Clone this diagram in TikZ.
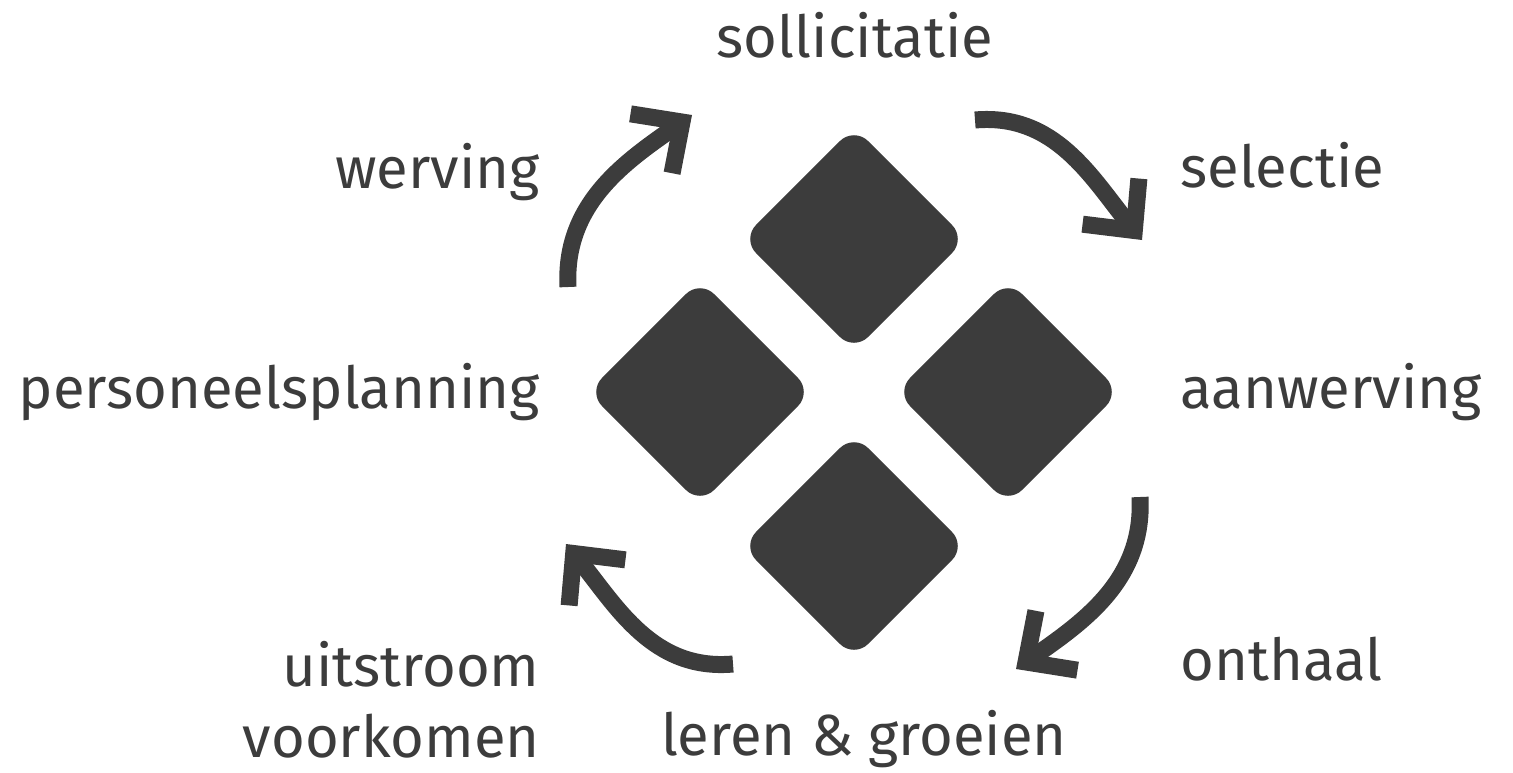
\documentclass[tikz,border=0pt]{standalone}
\usepackage{fontspec}
\setmainfont{Fira Sans}
\usepackage{tikz}
\usetikzlibrary{arrows.meta}
\definecolor{ink}{HTML}{3C3C3C}
\tikzset{ tile/.style = {rectangle, rotate=45, fill=ink, minimum size=3.17cm, inner sep=0pt, rounded corners=0.4cm} }
\tikzset{ lbl/.style = {text=ink, inner sep=0pt, font=\fontsize{33}{40}\selectfont, align=right} }
\tikzset{ flow/.style = {draw=ink, line width=0.34cm, -{Straight Barb[sharp, length=0.75cm, width=1.45cm]}} }

\begin{document}
\begin{tikzpicture}[x=0.02cm, y=-0.02cm]
    \useasboundingbox (0,0) rectangle (1513,772);
    \node[tile] (T) at (854, 239) {};
    \node[tile] (L) at (700, 392) {};
    \node[tile] (R) at (1008, 392) {};
    \node[tile] (B) at (854, 546) {};
    \node[lbl, anchor=base] (soll) at (855, 57) {sollicitatie};
    \node[lbl, anchor=base east] (werv) at (540, 188) {werving};
    \node[lbl, anchor=base west] (sel) at (1180, 187) {selectie};
    \node[lbl, anchor=base east] (plan) at (540, 408) {personeelsplanning};
    \node[lbl, anchor=base west] (aanw) at (1180, 408) {aanwerving};
    \node[lbl, anchor=base west] (ont) at (1180, 680) {onthaal};
    \node[lbl, anchor=base east] (uit) at (540, 757) {uitstroom\\voorkomen};
    \node[lbl, anchor=base] (leren) at (864, 755) {leren \& groeien};
    \coordinate (a1) at (568, 287);
    \coordinate (b1) at (692, 115);
    \coordinate (a2) at (975, 120);
    \coordinate (b2) at (1142, 240);
    \coordinate (a3) at (1140, 497);
    \coordinate (b3) at (1016, 669);
    \coordinate (a4) at (733, 664);
    \coordinate (b4) at (566, 544);
    \draw[flow] (a1) to[out=93, in=215] (b1);
    \draw[flow] (a2) to[out=5, in=129] (b2);
    \draw[flow] (a3) to[out=-87, in=35] (b3);
    \draw[flow] (a4) to[out=185, in=-51] (b4);
\end{tikzpicture}
\end{document}
